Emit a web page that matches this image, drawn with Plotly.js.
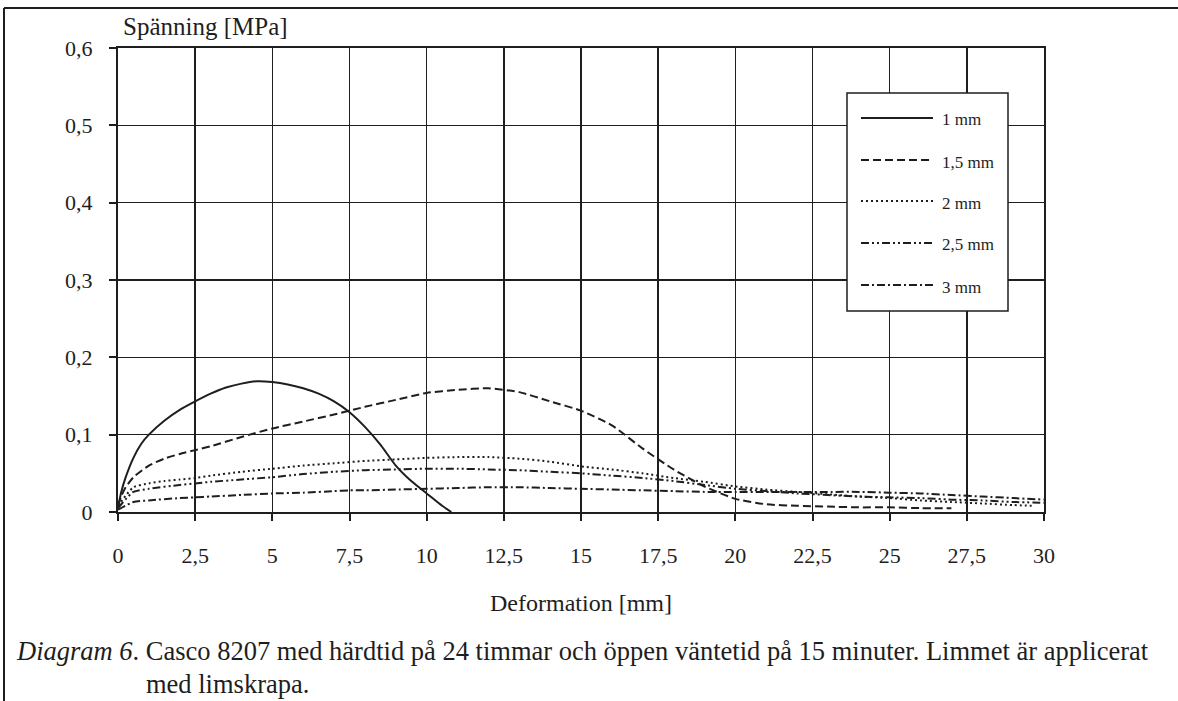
<!DOCTYPE html>
<html>
<head>
<meta charset="utf-8">
<script src="https://cdn.plot.ly/plotly-3.0.1.min.js"></script>
<style>
html,body{margin:0;padding:0;background:#fff;}
#chart{width:1178px;height:701px;}
</style>
</head>
<body>
<div id="chart"></div>
<script>
// ---- data ----
const seriesNames = ["1 mm", "1,5 mm", "2 mm", "2,5 mm", "3 mm"];

const x1mm = [0, 0.1, 0.25, 0.5, 0.75, 1, 1.5, 2, 2.5, 3, 3.5, 4, 4.5, 5, 5.5, 6, 6.5, 7, 7.5, 8, 8.5, 9, 9.5, 10, 10.5, 10.8];
const y1mm = [0.005, 0.025, 0.045, 0.070, 0.088, 0.100, 0.118, 0.132, 0.143, 0.153, 0.161, 0.166, 0.169, 0.168, 0.165, 0.160, 0.153, 0.143, 0.129, 0.110, 0.087, 0.060, 0.040, 0.024, 0.008, 0.0];

const x15mm = [0, 0.1, 0.25, 0.5, 1, 1.5, 2, 2.5, 3, 4, 5, 6, 7, 8, 9, 10, 11, 12, 13, 14, 15, 16, 17, 18, 19, 20, 21, 22, 23, 24, 25, 26, 27];
const y15mm = [0.008, 0.020, 0.032, 0.045, 0.060, 0.069, 0.075, 0.080, 0.085, 0.097, 0.108, 0.117, 0.126, 0.136, 0.145, 0.154, 0.158, 0.160, 0.155, 0.143, 0.131, 0.112, 0.082, 0.055, 0.033, 0.017, 0.010, 0.008, 0.007, 0.006, 0.006, 0.005, 0.005];

const x2mm = [0, 0.5, 1, 1.5, 2, 2.5, 3, 4, 5, 6, 7, 8, 9, 10, 11, 12, 13, 14, 15, 16, 17, 18, 19, 20, 21, 22, 23, 24, 25, 26, 27, 28, 29, 29.6];
const y2mm = [0.008, 0.032, 0.037, 0.040, 0.042, 0.044, 0.047, 0.052, 0.056, 0.060, 0.063, 0.066, 0.068, 0.070, 0.071, 0.071, 0.069, 0.065, 0.059, 0.055, 0.050, 0.044, 0.039, 0.033, 0.029, 0.026, 0.023, 0.020, 0.018, 0.015, 0.013, 0.011, 0.009, 0.008];

const x25mm = [0, 0.5, 1, 2, 2.5, 3, 4, 5, 6, 7, 8, 9, 10, 11, 12, 13, 14, 15, 16, 17, 18, 19, 20, 21, 22, 23, 24, 25, 26, 27, 28, 29, 30];
const y25mm = [0.005, 0.026, 0.030, 0.035, 0.037, 0.039, 0.042, 0.045, 0.049, 0.052, 0.054, 0.055, 0.056, 0.056, 0.055, 0.054, 0.052, 0.050, 0.047, 0.044, 0.040, 0.035, 0.030, 0.027, 0.024, 0.022, 0.020, 0.019, 0.018, 0.016, 0.015, 0.013, 0.012];

const x3mm = [0, 0.5, 1, 2, 2.5, 3, 4, 5, 6, 7, 7.5, 8, 9, 10, 11, 12, 13, 14, 15, 16, 17, 18, 19, 20, 21, 22, 23, 24, 25, 26, 27, 28, 29, 30];
const y3mm = [0.003, 0.013, 0.015, 0.018, 0.019, 0.020, 0.022, 0.024, 0.025, 0.027, 0.028, 0.028, 0.029, 0.030, 0.031, 0.032, 0.032, 0.031, 0.030, 0.029, 0.028, 0.027, 0.026, 0.026, 0.026, 0.026, 0.026, 0.026, 0.025, 0.024, 0.022, 0.020, 0.018, 0.016];

const xTickVals = [0, 2.5, 5, 7.5, 10, 12.5, 15, 17.5, 20, 22.5, 25, 27.5, 30];
const yTickVals = [0, 0.1, 0.2, 0.3, 0.4, 0.5, 0.6];

const xTitle = "Deformation [mm]";
const yTitle = "Spänning [MPa]";
const captionLine1 = "<i>Diagram 6</i>. Casco 8207 med härdtid på 24 timmar och öppen väntetid på 15 minuter. Limmet är applicerat";
const captionLine2 = "med limskrapa.";

// ---- styling ----
const FONT = "Liberation Serif, Times New Roman, serif";
const INK = "#1e1e1e";
const dashes = ["solid", "8px,4px", "2px,3px", "8px,3px,2px,3px,2px,3px", "8px,3px,2px,3px"];
const xs = [x1mm, x15mm, x2mm, x25mm, x3mm];
const ys = [y1mm, y15mm, y2mm, y25mm, y3mm];

const W = 1178, H = 701;
const M = {l: 118, r: 134, t: 48, b: 189};
const PW = W - M.l - M.r, PH = H - M.t - M.b;
const px = v => (v - M.l) / PW;           // pixel x -> paper x
const py = v => (H - M.b - v) / PH;       // pixel y -> paper y

const traces = seriesNames.map((n, i) => ({
  x: xs[i], y: ys[i], name: n, type: "scatter", mode: "lines",
  line: {color: INK, width: 2, dash: dashes[i], shape: "spline", smoothing: 0.6},
  showlegend: false, hoverinfo: "skip"
}));

const shapes = [
  // figure frame: left and top edges
  {type: "line", xref: "paper", yref: "paper", x0: px(4), x1: px(4), y0: py(8), y1: py(705), line: {color: INK, width: 2}},
  {type: "line", xref: "paper", yref: "paper", x0: px(4), x1: px(1180), y0: py(8), y1: py(8), line: {color: INK, width: 2}},
  // legend box
  {type: "rect", xref: "paper", yref: "paper", x0: px(847), x1: px(1008), y0: py(93), y1: py(311), fillcolor: "#fff", line: {color: INK, width: 1.5}, layer: "above"}
];
const annotations = [
  {xref: "paper", yref: "paper", x: px(121), y: py(27), xanchor: "left", yanchor: "middle", showarrow: false, text: yTitle, font: {family: FONT, size: 25, color: INK}},
  {xref: "paper", yref: "paper", x: px(14), y: py(651), xanchor: "left", yanchor: "middle", showarrow: false, text: captionLine1, font: {family: FONT, size: 26.5, color: INK}},
  {xref: "paper", yref: "paper", x: px(144), y: py(684), xanchor: "left", yanchor: "middle", showarrow: false, text: captionLine2, font: {family: FONT, size: 26.5, color: INK}}
];
const legendY = [120, 162, 203, 245, 287];
seriesNames.forEach((n, i) => {
  shapes.push({type: "line", xref: "paper", yref: "paper", x0: px(861), x1: px(933), y0: py(legendY[i] - 2), y1: py(legendY[i] - 2),
    line: {color: INK, width: 2, dash: dashes[i]}, layer: "above"});
  annotations.push({xref: "paper", yref: "paper", x: px(940), y: py(legendY[i]), xanchor: "left", yanchor: "middle", showarrow: false,
    text: n, font: {family: FONT, size: 17, color: INK}});
});

const layout = {
  width: W, height: H,
  margin: M,
  paper_bgcolor: "#fff", plot_bgcolor: "#fff",
  separators: ", ",
  font: {family: FONT, size: 22, color: INK},
  showlegend: false,
  xaxis: {
    range: [0, 30], tickvals: xTickVals, showgrid: true, gridcolor: INK, gridwidth: 1.5,
    showline: true, linecolor: INK, linewidth: 2, mirror: true, zeroline: false,
    ticks: "outside", ticklen: 7, tickwidth: 2, tickcolor: INK, ticklabelstandoff: 16,
    tickfont: {family: FONT, size: 22, color: INK},
    title: {text: xTitle, font: {family: FONT, size: 24, color: INK}, standoff: 27}
  },
  yaxis: {
    range: [0, 0.6], tickvals: yTickVals, showgrid: true, gridcolor: INK, gridwidth: 1.5,
    showline: true, linecolor: INK, linewidth: 2, mirror: true, zeroline: false,
    ticks: "outside", ticklen: 7, tickwidth: 2, tickcolor: INK, ticklabelstandoff: 12,
    tickfont: {family: FONT, size: 22, color: INK}
  },
  shapes: shapes,
  annotations: annotations
};

Plotly.newPlot("chart", traces, layout, {displayModeBar: false, staticPlot: true});
</script>
</body>
</html>
